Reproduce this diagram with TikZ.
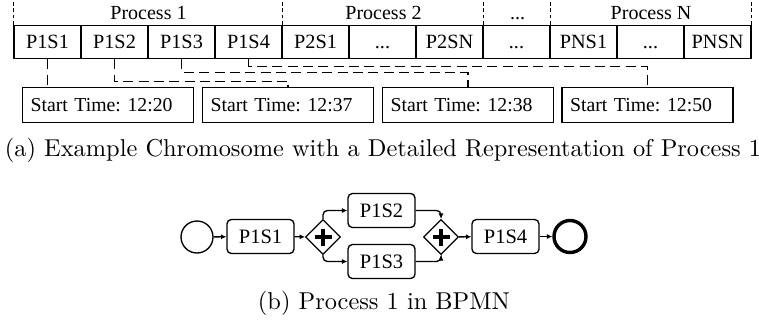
\documentclass[tikz,border=0pt]{standalone}
\usepackage{fontspec}
\usepackage{tikz}
\usetikzlibrary{shapes.geometric,arrows.meta}
\newfontfamily\timesf{Liberation Serif}
\newcommand{\pxu}{0.41pt}
\frenchspacing

\begin{document}
\begin{tikzpicture}[x=\pxu,y=-\pxu,line width=0.55pt]
    %
    % `gene' is one cell of the chromosome, `start' one start time.
    % `link' joins a step to its start time, `sepline' splits the processes.
    % `task', `gate', `event' and `flow' are for the BPMN part.
    \tikzstyle{gene} = [draw,minimum width=67*\pxu,minimum height=33*\pxu,inner sep=0pt,text height=5.6pt,text depth=0.4pt,font=\timesf\fontsize{8.3}{9}\selectfont]
    \tikzstyle{start} = [draw,fill=white,minimum height=35*\pxu,text width=63.5pt,align=left,inner xsep=3.3pt,inner ysep=0pt,font=\timesf\fontsize{8.1}{9}\selectfont]
    \tikzstyle{proc} = [inner sep=0pt,text height=5.6pt,text depth=0.4pt,font=\timesf\fontsize{8.2}{9}\selectfont]
    \tikzstyle{link} = [dash pattern=on 4.1pt off 2.2pt]
    \tikzstyle{sepline} = [dash pattern=on 1.6pt off 1pt]
    \tikzstyle{task} = [draw,rounded corners=1.8pt,minimum width=67*\pxu,minimum height=34*\pxu,inner sep=0pt,font=\timesf\fontsize{8.4}{9}\selectfont]
    \tikzstyle{gate} = [draw,shape=diamond,minimum size=35*\pxu,inner sep=0pt,path picture={\draw[line width=1.3pt] (path picture bounding box.center) ++(-8.5,0) -- ++(17,0) (path picture bounding box.center) ++(0,-8.5) -- ++(0,17);}]
    \tikzstyle{event} = [draw,shape=circle,minimum size=32*\pxu,inner sep=0pt]
    \tikzstyle{flow} = [-{Latex[length=2.2pt,width=2.1pt]},rounded corners=1.8pt]
    %
    \useasboundingbox (0,0) rectangle (759,322);
    %
    % Chromosome
    \node[gene] (g1) at (47.5,42) {P1S1};
    \node[gene] (g2) at (114.5,42) {P1S2};
    \node[gene] (g3) at (181.5,42) {P1S3};
    \node[gene] (g4) at (248.5,42) {P1S4};
    \node[gene] (g5) at (315.5,42) {P2S1};
    \node[gene] (g6) at (382.5,42) {...};
    \node[gene] (g7) at (449.5,42) {P2SN};
    \node[gene] (g8) at (516.5,42) {...};
    \node[gene] (g9) at (583.5,42) {PNS1};
    \node[gene] (g10) at (650.5,42) {...};
    \node[gene] (g11) at (717.5,42) {PNSN};
    %
    % Processes
    \node[proc] (pr1) at (148.5,13) {Process 1};
    \node[proc] (pr2) at (383.5,13) {Process 2};
    \node[proc] (pr3) at (517.5,13) {...};
    \node[proc] (pr4) at (651,13) {Process N};
    \draw[sepline] (g1.north west) -- ++(0,-24);
    \draw[sepline] (g4.north east) -- ++(0,-24);
    \draw[sepline] (g7.north east) -- ++(0,-24);
    \draw[sepline] (g8.north east) -- ++(0,-24);
    \draw[sepline] (g11.north east) -- ++(0,-24);
    %
    % Start times
    \node[start] (t1) at (108,105) {Start Time: 12:20};
    \node[start] (t2) at (288,105) {Start Time: 12:37};
    \node[start] (t3) at (468,105) {Start Time: 12:38};
    \node[start] (t4) at (647.5,105) {Start Time: 12:50};
    \draw[link] (g1.south) -- (g1.south |- t1.north);
    \draw[link] (g2.south) -- ++(0,22) -| (t2.north);
    \draw[link] (g3.south) -- ++(0,13) -| (t3.north);
    \draw[link] (g4.south) -- ++(0,7) -| (t4.north);
    %
    \node (capa) at (383,150) {(a) Example Chromosome with a Detailed Representation of Process 1};
    %
    % Process 1 in BPMN
    \node[event] (begin) at (197,237) {};
    \node[task] (p1s1) at (260.5,236.5) {P1S1};
    \node[gate] (gw1) at (323,237) {};
    \node[task] (p1s2) at (381.5,210.5) {P1S2};
    \node[task] (p1s3) at (381.5,261.5) {P1S3};
    \node[gate] (gw2) at (441,237) {};
    \node[task] (p1s4) at (505.5,236.5) {P1S4};
    \node[event,line width=1.4pt] (end) at (570,236.5) {};
    \draw[flow] (begin) -- (p1s1);
    \draw[flow] (p1s1) -- (gw1);
    \draw[flow] (gw1.north) |- (p1s2.west);
    \draw[flow] (gw1.south) |- (p1s3.west);
    \draw[flow] (p1s2.east) -| (gw2.north);
    \draw[flow] (p1s3.east) -| (gw2.south);
    \draw[flow] (gw2) -- (p1s4);
    \draw[flow] (p1s4) -- (end);
    %
    \node (capb) at (384,303) {(b) Process 1 in BPMN};
    %
\end{tikzpicture}
\end{document}
